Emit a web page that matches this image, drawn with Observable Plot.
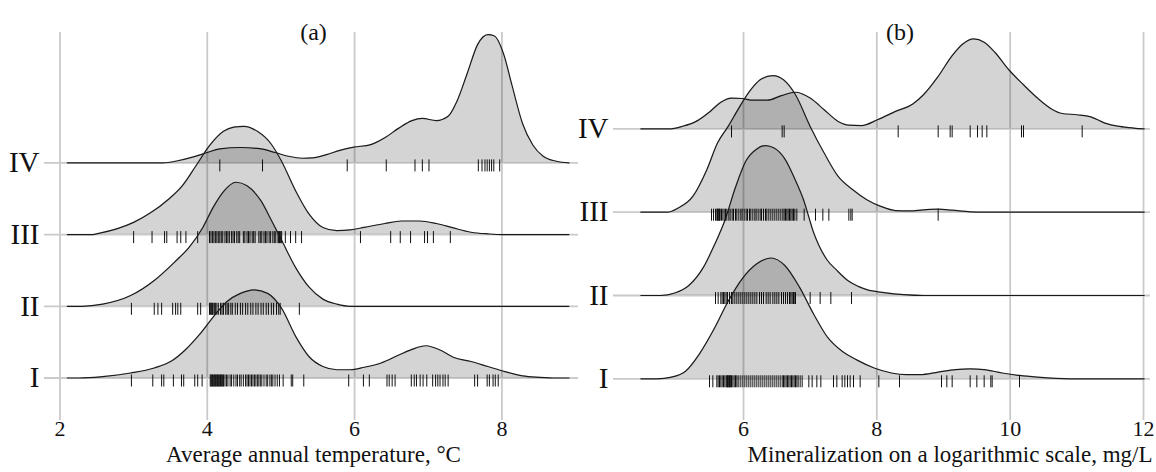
<!DOCTYPE html>
<html><head><meta charset="utf-8">
<script src="https://cdn.jsdelivr.net/npm/d3@7"></script>
<script src="https://cdn.jsdelivr.net/npm/@observablehq/plot@0.6"></script>
<style>
body{margin:0;background:#fff}
#wrap{display:flex;width:1156px;height:472px;overflow:hidden}
</style>
</head><body><div id="wrap"></div>
<script>
// ---------- categories & ticks ----------
const romans = ["I", "II", "III", "IV"];
const tempTicks = [2, 4, 6, 8];
const minTicks = [6, 8, 10, 12];
const tempTitle = "Average annual temperature, \u00B0C";
const minTitle = "Mineralization on a logarithmic scale, mg/L";

// ---------- panel (a): density heights (in ridge-spacing units) ----------
const tempI = [[2.1,0],[2.26,0],[2.58,0.02],[2.96,0.07],[3.28,0.14],[3.52,0.24],[3.7,0.39],[3.89,0.6],[4.08,0.85],[4.26,1.06],[4.45,1.18],[4.64,1.23],[4.82,1.18],[5.01,0.97],[5.2,0.58],[5.38,0.3],[5.57,0.16],[5.76,0.115],[5.94,0.115],[6.13,0.15],[6.36,0.21],[6.6,0.32],[6.78,0.4],[6.97,0.45],[7.16,0.39],[7.34,0.29],[7.58,0.23],[7.81,0.16],[8.04,0.09],[8.28,0.03],[8.51,0.01],[8.74,0],[8.91,0]];
const tempII = [[2.1,0],[2.3,0],[2.58,0.03],[2.96,0.15],[3.28,0.36],[3.56,0.62],[3.75,0.82],[3.94,1.1],[4.08,1.38],[4.22,1.6],[4.39,1.73],[4.54,1.68],[4.73,1.47],[4.87,1.2],[5.01,0.92],[5.2,0.54],[5.38,0.27],[5.57,0.1],[5.76,0.03],[5.94,0],[8.91,0]];
const tempIII = [[2.1,0],[2.44,0],[2.54,0.02],[2.77,0.08],[3.0,0.17],[3.24,0.31],[3.47,0.49],[3.66,0.68],[3.84,0.95],[4.03,1.24],[4.22,1.44],[4.36,1.5],[4.5,1.51],[4.68,1.44],[4.87,1.26],[5.01,1.02],[5.2,0.61],[5.38,0.29],[5.57,0.1],[5.76,0.055],[5.94,0.065],[6.13,0.1],[6.41,0.155],[6.64,0.19],[6.88,0.19],[7.11,0.155],[7.34,0.093],[7.58,0.033],[7.81,0.01],[8.0,0],[8.91,0]];
const tempIV = [[2.1,0],[3.4,0],[3.6,0.03],[3.8,0.08],[4.0,0.145],[4.17,0.195],[4.45,0.215],[4.73,0.195],[4.92,0.145],[5.1,0.093],[5.29,0.065],[5.43,0.07],[5.62,0.115],[5.8,0.175],[5.99,0.22],[6.22,0.255],[6.41,0.35],[6.6,0.485],[6.78,0.59],[6.92,0.62],[7.11,0.59],[7.27,0.65],[7.39,0.86],[7.53,1.25],[7.67,1.65],[7.81,1.79],[7.9,1.77],[8.02,1.53],[8.14,1.07],[8.28,0.55],[8.42,0.25],[8.56,0.093],[8.74,0.023],[8.91,0]];

// ---------- panel (a): rug observations ----------
const tempRugI = [2.97,3.26,3.38,3.41,3.54,3.65,3.68,3.83,3.87,3.93,4.04,4.05,4.06,4.07,4.08,4.09,4.10,4.11,4.12,4.13,4.14,4.15,4.16,4.17,4.18,4.19,4.20,4.21,4.22,4.24,4.26,4.28,4.31,4.33,4.36,4.39,4.41,4.44,4.46,4.49,4.52,4.54,4.56,4.58,4.60,4.62,4.64,4.66,4.68,4.70,4.72,4.74,4.77,4.80,4.82,4.85,4.87,4.89,4.92,4.95,4.98,5.03,5.14,5.16,5.31,5.92,6.12,6.20,6.44,6.47,6.51,6.55,6.77,6.81,6.84,6.89,6.93,6.98,7.06,7.10,7.13,7.16,7.20,7.23,7.27,7.63,7.67,7.80,7.83,7.88,7.91,7.95];
const tempRugII = [2.97,3.28,3.33,3.38,3.53,3.57,3.60,3.64,3.87,3.91,4.03,4.04,4.05,4.06,4.07,4.08,4.10,4.11,4.13,4.15,4.18,4.20,4.22,4.25,4.27,4.29,4.32,4.34,4.38,4.41,4.45,4.48,4.52,4.55,4.59,4.62,4.66,4.69,4.73,4.76,4.80,4.83,4.87,4.90,4.94,4.97,4.99,5.25];
const tempRugIII = [3.00,3.25,3.42,3.45,3.59,3.64,3.71,3.87,4.03,4.05,4.07,4.09,4.11,4.13,4.15,4.17,4.19,4.21,4.24,4.26,4.28,4.30,4.33,4.35,4.37,4.40,4.42,4.44,4.49,4.51,4.54,4.56,4.58,4.61,4.63,4.65,4.70,4.72,4.74,4.77,4.79,4.81,4.84,4.86,4.89,4.91,4.93,4.96,4.97,4.98,4.99,5.00,5.01,5.06,5.13,5.20,5.28,6.08,6.49,6.62,6.76,6.95,6.99,7.07,7.30];
const tempRugIV = [4.17,4.75,5.90,6.43,6.82,6.92,7.01,7.68,7.73,7.77,7.80,7.83,7.86,7.89,7.97];

// ---------- panel (b): density heights ----------
const minI = [[4.46,0],[4.7,0],[4.92,0.02],[5.13,0.09],[5.34,0.3],[5.56,0.6],[5.77,0.93],[5.98,1.2],[6.2,1.38],[6.41,1.45],[6.62,1.36],[6.84,1.1],[7.05,0.78],[7.26,0.5],[7.48,0.33],[7.69,0.23],[7.96,0.13],[8.22,0.07],[8.44,0.05],[8.65,0.05],[8.92,0.08],[9.18,0.11],[9.4,0.12],[9.61,0.11],[9.88,0.07],[10.14,0.04],[10.41,0.02],[10.89,0],[12.01,0]];
const minII = [[4.46,0],[4.76,0],[4.97,0.03],[5.18,0.12],[5.4,0.34],[5.56,0.6],[5.72,0.9],[5.88,1.3],[6.04,1.62],[6.2,1.76],[6.33,1.8],[6.46,1.77],[6.62,1.64],[6.78,1.38],[6.9,1.15],[7.05,0.76],[7.26,0.42],[7.39,0.31],[7.58,0.17],[7.72,0.11],[7.85,0.07],[8.11,0.035],[8.4,0.01],[8.7,0],[12.01,0]];
const minIII = [[4.46,0],[4.86,0],[5.02,0.05],[5.24,0.19],[5.45,0.51],[5.61,0.83],[5.77,1.03],[5.93,1.25],[6.09,1.45],[6.25,1.59],[6.44,1.64],[6.6,1.59],[6.78,1.41],[7.0,1.03],[7.21,0.71],[7.42,0.43],[7.64,0.27],[7.85,0.15],[8.06,0.07],[8.28,0.02],[8.49,0.016],[8.7,0.028],[8.92,0.036],[9.13,0.024],[9.4,0.004],[9.6,0],[12.01,0]];
const minIV = [[4.46,0],[4.89,0],[5.08,0.03],[5.29,0.09],[5.5,0.21],[5.66,0.32],[5.82,0.37],[5.98,0.365],[6.14,0.345],[6.36,0.345],[6.57,0.4],[6.78,0.44],[7.0,0.37],[7.21,0.23],[7.42,0.09],[7.58,0.045],[7.77,0.04],[8.01,0.11],[8.28,0.21],[8.54,0.3],[8.7,0.41],[8.92,0.63],[9.13,0.88],[9.29,1.02],[9.45,1.08],[9.61,1.04],[9.77,0.92],[9.98,0.71],[10.2,0.53],[10.41,0.37],[10.62,0.24],[10.78,0.185],[11.0,0.17],[11.21,0.145],[11.42,0.07],[11.64,0.03],[11.85,0.01],[12.01,0]];

// ---------- panel (b): rug observations ----------
const minRugI = [5.49,5.54,5.60,5.62,5.64,5.66,5.68,5.70,5.72,5.74,5.75,5.76,5.77,5.78,5.79,5.80,5.81,5.82,5.84,5.86,5.88,5.90,5.92,5.95,5.98,6.01,6.04,6.07,6.10,6.13,6.16,6.19,6.22,6.25,6.28,6.31,6.34,6.37,6.40,6.43,6.46,6.49,6.52,6.55,6.58,6.60,6.62,6.64,6.66,6.68,6.70,6.72,6.74,6.76,6.78,6.80,6.82,6.85,6.88,6.98,7.03,7.10,7.16,7.35,7.40,7.48,7.52,7.56,7.60,7.65,7.75,8.03,8.34,8.97,9.05,9.13,9.40,9.50,9.61,9.71,9.73,10.14];
const minRugII = [5.58,5.62,5.66,5.68,5.70,5.72,5.74,5.76,5.79,5.82,5.84,5.87,5.90,5.93,5.96,5.99,6.02,6.05,6.08,6.11,6.14,6.17,6.20,6.24,6.27,6.30,6.34,6.37,6.40,6.44,6.47,6.50,6.53,6.57,6.60,6.63,6.66,6.69,6.71,6.73,6.75,6.77,6.78,7.00,7.15,7.31,7.62];
const minRugIII = [5.52,5.55,5.58,5.60,5.61,5.62,5.63,5.64,5.65,5.67,5.69,5.71,5.73,5.75,5.78,5.80,5.83,5.85,5.88,5.90,5.93,5.96,5.98,6.01,6.04,6.06,6.09,6.11,6.14,6.17,6.19,6.22,6.25,6.27,6.30,6.33,6.35,6.38,6.41,6.44,6.47,6.50,6.53,6.56,6.59,6.61,6.63,6.65,6.67,6.69,6.71,6.73,6.75,6.77,6.80,6.91,7.08,7.19,7.28,7.58,7.61,7.63,8.92];
const minRugIV = [5.82,6.58,6.61,8.32,8.92,9.10,9.13,9.40,9.51,9.58,9.65,10.17,10.20,11.08];

// ---------- drawing ----------
const FONT = "'Liberation Serif', 'Times New Roman', serif";

function ridgePlot(cfg) {
  const {curves, rugs, ticks, xDomain, width, marginLeft, marginRight, basePx, spacePx, topPx, bottomPx, panel, panelDx, title, titleAnchor, titleDx} = cfg;
  const H = 472;
  const yDomain = [-(bottomPx - basePx) / spacePx, (basePx - topPx) / spacePx];
  const up = 3 / spacePx, down = 9 / spacePx;
  const marks = [
    Plot.gridX(ticks, {stroke: "#cacaca", strokeOpacity: 1, strokeWidth: 1.8}),
    Plot.ruleY([0, 1, 2, 3], {stroke: "#cacaca", strokeWidth: 1.8})
  ];
  for (let k = 3; k >= 0; k--) {
    const rows = curves[k].map(([x, h]) => ({x, base: k, top: k + h}));
    marks.push(
      Plot.areaY(rows, {x: "x", y1: "base", y2: "top", fill: "#000", fillOpacity: 0.17, curve: "monotone-x"}),
      Plot.lineY(rows, {x: "x", y: "top", stroke: "#1a1a1a", strokeWidth: 1.2, curve: "monotone-x"}),
      Plot.ruleX(rugs[k], {x: d => d, y1: k + up, y2: k - down, stroke: "#111", strokeWidth: 1})
    );
  }
  marks.push(
    Plot.axisX(ticks, {tickSize: 0, tickPadding: 0, fontSize: 22, fill: "#111"}),
    Plot.axisY([0, 1, 2, 3], {tickSize: 0, tickPadding: 5, tickFormat: i => romans[i], fontSize: 29, fill: "#111"}),
    Plot.text([panel], {frameAnchor: "top", dx: panelDx, dy: -10, fontSize: 24, fill: "#111"}),
    Plot.text([title], {frameAnchor: titleAnchor, textAnchor: titleAnchor === "bottom" ? "middle" : "end", dx: titleDx, dy: 41, fontSize: 23, fill: "#111"})
  );
  return Plot.plot({
    width, height: H,
    marginLeft, marginRight, marginTop: topPx, marginBottom: H - bottomPx,
    x: {domain: xDomain, label: null, axis: null},
    y: {domain: yDomain, label: null, axis: null},
    style: {fontFamily: FONT, fontSize: "22px", background: "#fff", color: "#111", overflow: "visible"},
    marks
  });
}

const wrap = document.getElementById("wrap");
wrap.append(ridgePlot({
  curves: [tempI, tempII, tempIII, tempIV],
  rugs: [tempRugI, tempRugII, tempRugIII, tempRugIV],
  ticks: tempTicks,
  xDomain: [1.79, 9.04], width: 578, marginLeft: 44, marginRight: 0,
  basePx: 377.5, spacePx: 71.7, topPx: 32, bottomPx: 420,
  panel: "(a)", panelDx: 2, title: tempTitle, titleAnchor: "bottom", titleDx: 2
}));
wrap.append(ridgePlot({
  curves: [minI, minII, minIII, minIV],
  rugs: [minRugI, minRugII, minRugIII, minRugIV],
  ticks: minTicks,
  xDomain: [4.05, 12.105], width: 578, marginLeft: 35, marginRight: 6,
  basePx: 378.3, spacePx: 83.3, topPx: 32, bottomPx: 420,
  panel: "(b)", panelDx: 18, title: minTitle, titleAnchor: "bottom-right", titleDx: 2
}));
</script>
</body></html>
